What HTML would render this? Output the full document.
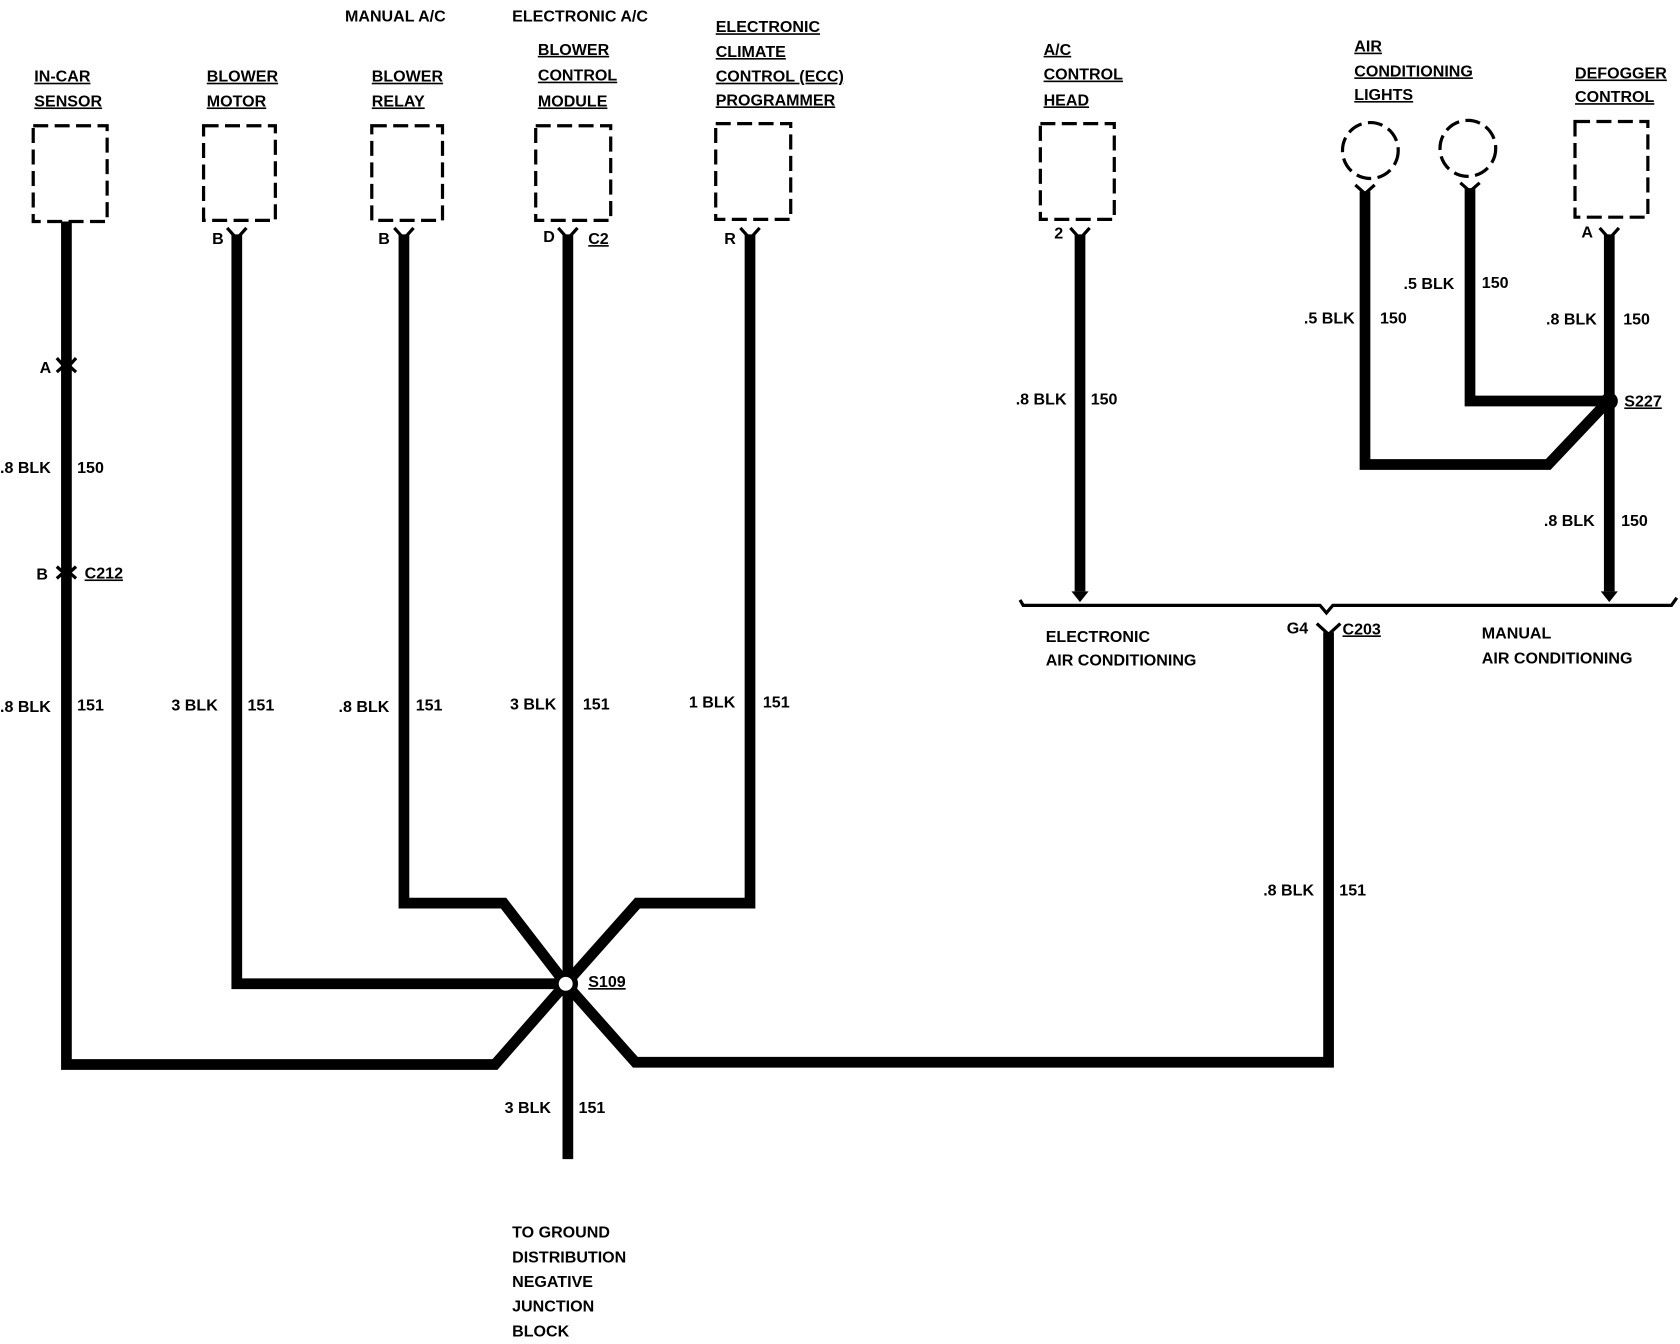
<!DOCTYPE html>
<html><head><meta charset="utf-8"><style>
html,body{margin:0;padding:0;background:#fff;}
svg{display:block;}
text{font-family:"Liberation Sans Narrow","Liberation Sans",sans-serif;font-weight:bold;font-size:15px;fill:#000;}
.u{text-decoration:underline;}
</style></head><body>
<svg width="1680" height="1344" viewBox="0 0 1568 1250" preserveAspectRatio="none" xmlns="http://www.w3.org/2000/svg">
<g fill="none" stroke="#000" stroke-width="3" stroke-dasharray="14,6">
<rect x="31" y="117" width="69" height="89"/>
<rect x="190" y="117" width="67" height="88"/>
<rect x="347" y="117" width="66" height="88"/>
<rect x="500" y="117" width="70" height="88"/>
<rect x="668" y="115" width="70" height="89"/>
<rect x="971" y="115" width="69" height="89"/>
<rect x="1470" y="113" width="68" height="89"/>
<circle cx="1279" cy="140" r="26"/>
<circle cx="1370" cy="138" r="26"/>
</g>
<g fill="none" stroke="#000" stroke-width="10" stroke-linejoin="miter">
<polyline points="62,206 62,990 462,990 528,915"/>
<polyline points="221,218 221,915 528,915"/>
<polyline points="377,218 377,840 470,840 528,915"/>
<polyline points="530,218 530,1078"/>
<polyline points="700,218 700,840 595,840 528,915"/>
<polyline points="528,915 593,988 1240,988 1240,588"/>
<polyline points="1008,218 1008,550"/>
<polyline points="1502,218 1502,550"/>
<polyline points="1274,178 1274,432 1445,432 1502,372"/>
<polyline points="1372,175 1372,373 1502,373"/>
</g>
<g fill="none" stroke="#000" stroke-width="3">
<path d="M212 212 L221 222 L230 212"/>
<path d="M368 212 L377 222 L386 212"/>
<path d="M521 212 L530 222 L539 212"/>
<path d="M691 212 L700 222 L709 212"/>
<path d="M999 212 L1008 222 L1017 212"/>
<path d="M1493 212 L1502 222 L1511 212"/>
<path d="M1265 172 L1274 180 L1283 172"/>
<path d="M1363 170 L1372 178 L1381 170"/>
<path d="M53 333 L62 343 L71 333"/>
<path d="M53 346 L62 338 L71 346"/>
<path d="M53 538 L62 530 L71 538"/>
<path d="M53 527 L62 535 L71 527"/>
<path d="M952 558 L955 563 L1232 563 L1238 570 L1244 563 L1560 563 L1565 556"/>
<path d="M1229 580 L1240 590 L1251 580"/>
</g>
<polygon points="1000,550 1016,550 1008,560" fill="#000"/>
<polygon points="1494,550 1510,550 1502,560" fill="#000"/>
<circle cx="528" cy="915" r="9" fill="#fff" stroke="#000" stroke-width="5"/>
<circle cx="1502" cy="373" r="8" fill="#000"/>
<text x="322" y="20">MANUAL A/C</text>
<text x="478" y="20">ELECTRONIC A/C</text>
<text x="32" y="76" class="u">IN-CAR</text><text x="32" y="99" class="u">SENSOR</text>
<text x="193" y="76" class="u">BLOWER</text><text x="193" y="99" class="u">MOTOR</text>
<text x="347" y="76" class="u">BLOWER</text><text x="347" y="99" class="u">RELAY</text>
<text x="502" y="51" class="u">BLOWER</text><text x="502" y="75" class="u">CONTROL</text><text x="502" y="99" class="u">MODULE</text>
<text x="668" y="30" class="u">ELECTRONIC</text><text x="668" y="53" class="u">CLIMATE</text><text x="668" y="76" class="u">CONTROL (ECC)</text><text x="668" y="98" class="u">PROGRAMMER</text>
<text x="974" y="51" class="u">A/C</text><text x="974" y="74" class="u">CONTROL</text><text x="974" y="98" class="u">HEAD</text>
<text x="1264" y="48" class="u">AIR</text><text x="1264" y="71" class="u">CONDITIONING</text><text x="1264" y="93" class="u">LIGHTS</text>
<text x="1470" y="73" class="u">DEFOGGER</text><text x="1470" y="95" class="u">CONTROL</text>
<text x="198" y="227">B</text><text x="353" y="227">B</text><text x="507" y="225">D</text><text x="549" y="227" class="u">C2</text><text x="676" y="227">R</text>
<text x="984" y="222">2</text><text x="1476" y="221">A</text>
<text x="37" y="347">A</text>
<text x="0" y="440">.8 BLK</text><text x="72" y="440">150</text>
<text x="34" y="539">B</text><text x="79" y="538" class="u">C212</text>
<text x="0" y="662">.8 BLK</text><text x="72" y="661">151</text>
<text x="160" y="661">3 BLK</text><text x="231" y="661">151</text>
<text x="316" y="662">.8 BLK</text><text x="388" y="661">151</text>
<text x="476" y="660">3 BLK</text><text x="544" y="660">151</text>
<text x="643" y="658">1 BLK</text><text x="712" y="658">151</text>
<text x="549" y="918" class="u">S109</text>
<text x="471" y="1035">3 BLK</text><text x="540" y="1035">151</text>
<text x="478" y="1151">TO GROUND</text><text x="478" y="1174">DISTRIBUTION</text><text x="478" y="1197">NEGATIVE</text><text x="478" y="1220">JUNCTION</text><text x="478" y="1243">BLOCK</text>
<text x="948" y="376">.8 BLK</text><text x="1018" y="376">150</text>
<text x="1217" y="301">.5 BLK</text><text x="1288" y="301">150</text>
<text x="1310" y="269">.5 BLK</text><text x="1383" y="268">150</text>
<text x="1443" y="302">.8 BLK</text><text x="1515" y="302">150</text>
<text x="1516" y="378" class="u">S227</text>
<text x="1441" y="489">.8 BLK</text><text x="1513" y="489">150</text>
<text x="976" y="597">ELECTRONIC</text><text x="976" y="619">AIR CONDITIONING</text>
<text x="1383" y="594">MANUAL</text><text x="1383" y="617">AIR CONDITIONING</text>
<text x="1201" y="589">G4</text><text x="1253" y="590" class="u">C203</text>
<text x="1179" y="833">.8 BLK</text><text x="1250" y="833">151</text>
</svg>
</body></html>
